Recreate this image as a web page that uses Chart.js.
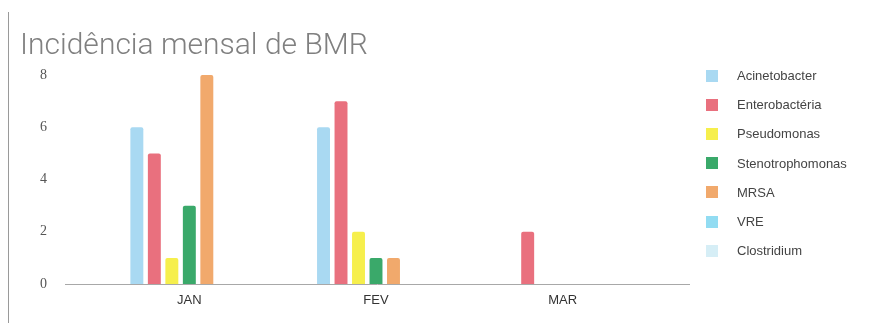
<!DOCTYPE html>
<html>
<head>
<meta charset="utf-8">
<script src="https://cdn.jsdelivr.net/npm/chart.js@4"></script>
<style>
  html, body { margin: 0; padding: 0; background: #fff; }
  #wrap { position: relative; width: 892px; height: 323px; }
  #edge { position: absolute; left: 8px; top: 12px; width: 1px; height: 311px; background: #9a9a9a; }
  #legend { position: absolute; left: 706px; top: 61px; font-family: "Liberation Sans", Arial, sans-serif; font-size: 13px; color: #444; }
  #legend .item { height: 29.2px; display: flex; align-items: center; }
  #legend .box { width: 12px; height: 12px; margin-right: 19px; }
</style>
</head>
<body>
<div id="wrap">
  <canvas id="chart" width="892" height="323"></canvas>
  <div id="edge"></div>
  <div id="legend"></div>
</div>
<script>
const months = ['JAN', 'FEV', 'MAR'];
const seriesNames = ['Acinetobacter', 'Enterobactéria', 'Pseudomonas', 'Stenotrophomonas', 'MRSA', 'VRE', 'Clostridium'];
const acinetobacter = [6, 6, 0];
const enterobacteria = [5, 7, 2];
const pseudomonas = [1, 2, 0];
const stenotrophomonas = [3, 1, 0];
const mrsa = [8, 1, 0];
const vre = [0, 0, 0];
const clostridium = [0, 0, 0];
const yTicks = [0, 2, 4, 6, 8];

const values = [acinetobacter, enterobacteria, pseudomonas, stenotrophomonas, mrsa, vre, clostridium];
const colors = ['#a9d9f2', '#e9707e', '#f6ef4c', '#3aa96a', '#f1a96c', '#92dcf2', '#d6eef6'];

// linha da base (0) mais comprida que a área do gráfico, como na imagem
const baseLine = {
    id: 'baseLine',
    afterDatasetsDraw(chart) {
        const ctx = chart.ctx;
        const y = Math.round(chart.scales.y.getPixelForValue(0)) + 0.5;
        ctx.save();
        ctx.strokeStyle = '#a8a8a8';
        ctx.lineWidth = 1;
        ctx.beginPath();
        ctx.moveTo(chart.chartArea.left - 31, y);
        ctx.lineTo(chart.chartArea.right + 34, y);
        ctx.stroke();
        ctx.restore();
    }
};

const ctx = document.getElementById('chart').getContext('2d');
const chart = new Chart(ctx, {
    type: 'bar',
    data: {
        labels: months,
        datasets: seriesNames.map((name, i) => ({
            label: name,
            data: values[i],
            backgroundColor: colors[i],
            borderRadius: 2,
            borderSkipped: 'bottom',
            barPercentage: 0.74,
            categoryPercentage: 0.656
        }))
    },
    options: {
        responsive: false,
        animation: false,
        layout: { padding: { left: 20, right: 236, top: 9, bottom: 15 } },
        plugins: {
            legend: { display: false },
            tooltip: { enabled: false },
            title: {
                display: true,
                text: 'Incidência mensal de BMR',
                align: 'start',
                color: '#808080',
                font: { family: 'Roboto, "Liberation Sans", Arial, sans-serif', size: 30, weight: 300 },
                padding: { top: 19, bottom: 11 }
            }
        },
        scales: {
            x: {
                grid: { display: false, drawTicks: false },
                border: { display: false },
                afterFit(scale) { scale.height = 24; },
                ticks: {
                    color: '#333',
                    padding: 9,
                    font: { family: '"Liberation Sans", Arial, sans-serif', size: 13 }
                }
            },
            y: {
                min: 0,
                max: 8,
                grid: { display: false, drawTicks: false },
                border: { display: false },
                afterFit(scale) {
                    scale.width = 76;
                    // o padding dos ticks nao deve empurrar a area do grafico
                    scale.paddingTop = 0;
                    scale.paddingBottom = 0;
                },
                afterBuildTicks(scale) { scale.ticks = yTicks.map(v => ({ value: v })); },
                ticks: {
                    color: '#555',
                    padding: 49,
                    font: { family: '"Liberation Serif", "Times New Roman", serif', size: 14 }
                }
            }
        }
    },
    plugins: [baseLine]
});

// legenda em HTML
const legend = document.getElementById('legend');
seriesNames.forEach((name, i) => {
    const item = document.createElement('div');
    item.className = 'item';
    item.innerHTML = `<span class="box" style="background:${colors[i]}"></span><span>${name}</span>`;
    legend.appendChild(item);
});
</script>
</body>
</html>
